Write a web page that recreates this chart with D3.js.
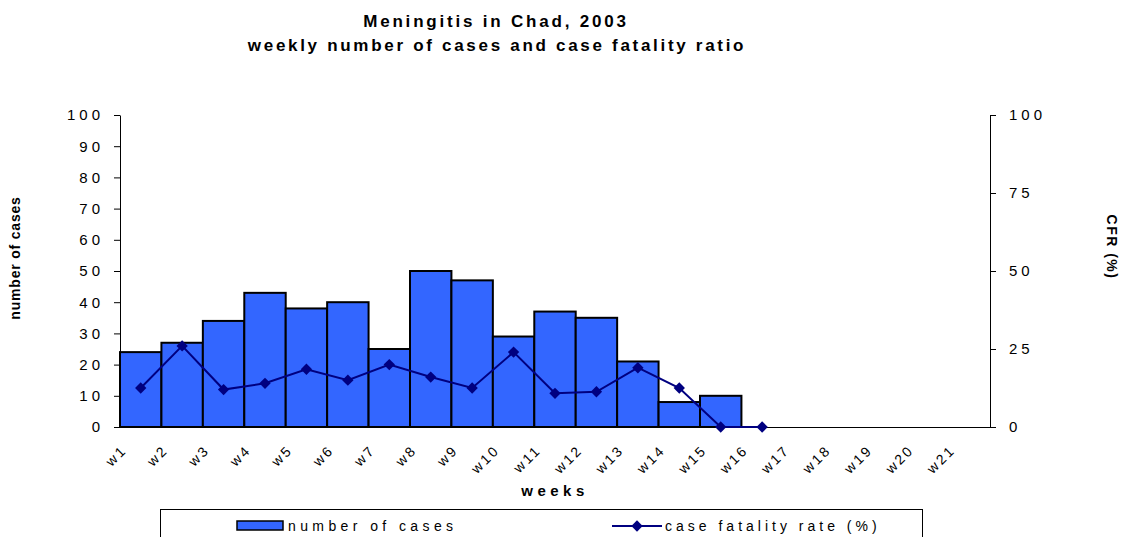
<!DOCTYPE html>
<html>
<head>
<meta charset="utf-8">
<script src="https://cdn.jsdelivr.net/npm/d3@7"></script>
<style>
  body { margin: 0; background: #fff; }
  svg { display: block; font-family: "Liberation Sans", Arial, sans-serif; }
</style>
</head>
<body>
<div id="chart"></div>
<script>
// weekly data
const weeks = ["w1","w2","w3","w4","w5","w6","w7","w8","w9","w10","w11","w12","w13","w14","w15","w16","w17","w18","w19","w20","w21"];
const cases = [24, 27, 34, 43, 38, 40, 25, 50, 47, 29, 37, 35, 21, 8, 10];
const cfr = [12.5, 26, 12, 14, 18.5, 15, 20, 16, 12.5, 24, 10.8, 11.3, 19, 12.5, 0, 0];
const leftTicks = [0, 10, 20, 30, 40, 50, 60, 70, 80, 90, 100];
const rightTicks = [0, 25, 50, 75, 100];

const width = 1123, height = 537;

const svg = d3.select("#chart")
    .append("svg")
    .attr("width", width)
    .attr("height", height);

svg.append("rect").attr("width", width).attr("height", height).attr("fill", "#fff");

const x = d3.scaleBand().domain(weeks).range([120, 990]).padding(0);
const yL = d3.scaleLinear().domain([0, 100]).range([427, 115]);
const yR = d3.scaleLinear().domain([0, 100]).range([427, 115]);

// title
svg.append("text")
    .attr("x", 496).attr("y", 27)
    .attr("text-anchor", "middle")
    .style("font-size", "17px").style("font-weight", "bold").style("letter-spacing", "2.8px")
    .text("Meningitis in Chad, 2003");
svg.append("text")
    .attr("x", 497).attr("y", 51)
    .attr("text-anchor", "middle")
    .style("font-size", "17px").style("font-weight", "bold").style("letter-spacing", "2.7px")
    .text("weekly number of cases and case fatality ratio");

// bars
svg.append("g")
    .selectAll("rect")
    .data(cases)
    .enter().append("rect")
    .attr("x", (d, i) => x(weeks[i]))
    .attr("y", d => yL(d))
    .attr("width", x.bandwidth())
    .attr("height", d => yL(0) - yL(d))
    .attr("fill", "#3366FF")
    .attr("stroke", "#000")
    .attr("stroke-width", 2);

// left axis
const gl = svg.append("g")
    .attr("transform", "translate(120,0)")
    .call(d3.axisLeft(yL).tickValues(leftTicks).tickSize(6).tickSizeOuter(0).tickFormat(d3.format("d")));
gl.selectAll("text")
    .attr("x", -16)
    .style("font-size", "15px").style("letter-spacing", "4px")
    .attr("fill", "#000");

// right axis
const gr = svg.append("g")
    .attr("transform", "translate(990,0)")
    .call(d3.axisRight(yR).tickValues(rightTicks).tickSize(6).tickSizeOuter(0));
gr.selectAll("text")
    .attr("x", 19)
    .style("font-size", "15px").style("letter-spacing", "4px")
    .attr("fill", "#000");

// bottom axis
const gb = svg.append("g")
    .attr("transform", "translate(0,427)")
    .call(d3.axisBottom(x).tickSize(0).tickSizeOuter(0));
gb.selectAll("text")
    .attr("text-anchor", "end")
    .attr("y", 0).attr("dy", 0)
    .attr("transform", "translate(-13,24) rotate(-45)")
    .style("font-size", "14px").style("letter-spacing", "2.5px")
    .attr("fill", "#000");

svg.selectAll(".domain").attr("stroke", "#000");
svg.selectAll(".tick line").attr("stroke", "#000");

// CFR line
const line = d3.line()
    .x((d, i) => x(weeks[i]) + x.bandwidth() / 2)
    .y(d => yR(d));
svg.append("path")
    .datum(cfr)
    .attr("d", line)
    .attr("fill", "none")
    .attr("stroke", "#000080")
    .attr("stroke-width", 2);

const diamond = d3.symbol().type(d3.symbolSquare).size(64);
svg.append("g")
    .selectAll("path")
    .data(cfr)
    .enter().append("path")
    .attr("d", diamond)
    .attr("transform", (d, i) => `translate(${x(weeks[i]) + x.bandwidth() / 2},${yR(d)}) rotate(45)`)
    .attr("fill", "#000080");

// axis titles
svg.append("text")
    .attr("transform", "translate(20,258) rotate(-90)")
    .attr("text-anchor", "middle")
    .style("font-size", "14px").style("font-weight", "bold").style("letter-spacing", "0.8px")
    .text("number of cases");
svg.append("text")
    .attr("transform", "translate(1107,247) rotate(90)")
    .attr("text-anchor", "middle")
    .style("font-size", "14px").style("font-weight", "bold").style("letter-spacing", "1.5px")
    .text("CFR (%)");
svg.append("text")
    .attr("x", 555).attr("y", 496)
    .attr("text-anchor", "middle")
    .style("font-size", "15px").style("font-weight", "bold").style("letter-spacing", "4.5px")
    .text("weeks");

// legend
const legend = svg.append("g");
legend.append("rect")
    .attr("x", 160.5).attr("y", 509.5)
    .attr("width", 762).attr("height", 40)
    .attr("fill", "#fff").attr("stroke", "#000");
legend.append("rect")
    .attr("x", 237).attr("y", 521)
    .attr("width", 46).attr("height", 9)
    .attr("fill", "#3366FF").attr("stroke", "#000").attr("stroke-width", 1.5);
legend.append("text")
    .attr("x", 288).attr("y", 531)
    .style("font-size", "14px").style("letter-spacing", "4.4px")
    .text("number of cases");
legend.append("line")
    .attr("x1", 612).attr("x2", 662).attr("y1", 526).attr("y2", 526)
    .attr("stroke", "#000080").attr("stroke-width", 2);
legend.append("path")
    .attr("d", diamond)
    .attr("transform", "translate(637,526) rotate(45)")
    .attr("fill", "#000080");
legend.append("text")
    .attr("x", 665).attr("y", 531)
    .style("font-size", "14px").style("letter-spacing", "4px")
    .text("case fatality rate (%)");
</script>
</body>
</html>
